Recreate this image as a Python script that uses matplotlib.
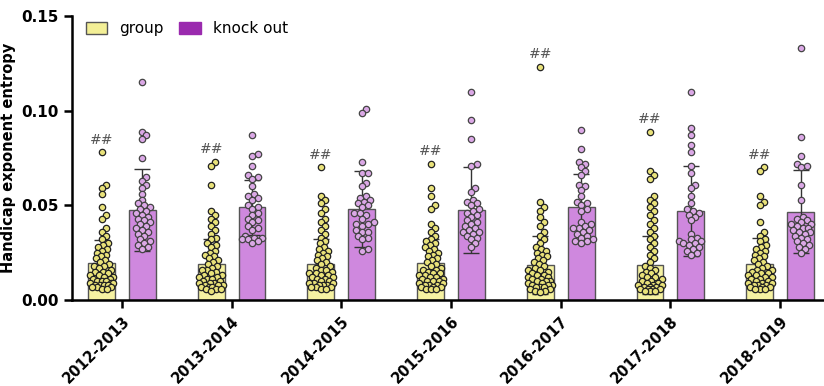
import numpy as np
import matplotlib.pyplot as plt
from matplotlib.patches import Patch

seasons = ["2012-2013", "2013-2014", "2014-2015", "2015-2016",
           "2016-2017", "2017-2018", "2018-2019"]

group_mean = [0.0195, 0.019, 0.019, 0.0195, 0.0185, 0.0185, 0.019]
group_sd = [0.012, 0.013, 0.013, 0.0125, 0.0155, 0.0155, 0.0136]
ko_mean = [0.0475, 0.049, 0.048, 0.0475, 0.049, 0.047, 0.0467]
ko_sd = [0.0215, 0.0145, 0.020, 0.0225, 0.0175, 0.024, 0.022]

group_pts = [
    [0.078, 0.061, 0.059, 0.056, 0.049, 0.045, 0.043, 0.038, 0.036, 0.034, 0.032, 0.030, 0.029,
     0.028, 0.027, 0.026, 0.025, 0.024, 0.023, 0.022, 0.021, 0.020, 0.019, 0.018, 0.018, 0.017,
     0.016, 0.015, 0.015, 0.014, 0.013, 0.013, 0.012, 0.012, 0.011, 0.011, 0.010, 0.010, 0.010,
     0.009, 0.009, 0.009, 0.008, 0.008, 0.008, 0.008, 0.007, 0.007, 0.007, 0.006, 0.006],
    [0.073, 0.071, 0.061, 0.047, 0.045, 0.043, 0.041, 0.039, 0.037, 0.035, 0.033, 0.032, 0.030,
     0.029, 0.028, 0.026, 0.025, 0.024, 0.023, 0.022, 0.021, 0.020, 0.019, 0.018, 0.017, 0.016,
     0.016, 0.015, 0.014, 0.013, 0.013, 0.012, 0.012, 0.011, 0.011, 0.010, 0.010, 0.009, 0.009,
     0.009, 0.008, 0.008, 0.008, 0.007, 0.007, 0.007, 0.006, 0.006, 0.006, 0.005],
    [0.070, 0.055, 0.053, 0.051, 0.048, 0.046, 0.043, 0.041, 0.039, 0.037, 0.035, 0.033, 0.031,
     0.030, 0.028, 0.027, 0.026, 0.025, 0.024, 0.023, 0.022, 0.021, 0.020, 0.019, 0.018, 0.017,
     0.016, 0.016, 0.015, 0.014, 0.014, 0.013, 0.013, 0.012, 0.012, 0.011, 0.011, 0.010, 0.010,
     0.009, 0.009, 0.009, 0.008, 0.008, 0.008, 0.007, 0.007, 0.007, 0.006, 0.006],
    [0.072, 0.059, 0.055, 0.050, 0.048, 0.040, 0.038, 0.036, 0.034, 0.032, 0.031, 0.030, 0.029,
     0.028, 0.027, 0.026, 0.025, 0.024, 0.023, 0.022, 0.021, 0.020, 0.019, 0.018, 0.017, 0.016,
     0.016, 0.015, 0.014, 0.014, 0.013, 0.013, 0.012, 0.012, 0.011, 0.011, 0.010, 0.010, 0.010,
     0.009, 0.009, 0.008, 0.008, 0.008, 0.007, 0.007, 0.007, 0.006, 0.006, 0.006],
    [0.123, 0.052, 0.049, 0.047, 0.044, 0.041, 0.039, 0.036, 0.034, 0.032, 0.030, 0.028, 0.027,
     0.026, 0.025, 0.024, 0.023, 0.022, 0.021, 0.020, 0.019, 0.018, 0.017, 0.016, 0.016, 0.015,
     0.014, 0.013, 0.013, 0.012, 0.012, 0.011, 0.011, 0.010, 0.010, 0.010, 0.009, 0.009, 0.008,
     0.008, 0.008, 0.007, 0.007, 0.007, 0.006, 0.006, 0.005, 0.005, 0.004],
    [0.089, 0.068, 0.066, 0.064, 0.055, 0.053, 0.051, 0.049, 0.047, 0.045, 0.042, 0.040, 0.038,
     0.036, 0.034, 0.032, 0.030, 0.028, 0.026, 0.024, 0.022, 0.020, 0.018, 0.017, 0.016, 0.015,
     0.014, 0.013, 0.012, 0.012, 0.011, 0.010, 0.010, 0.009, 0.009, 0.008, 0.008, 0.008, 0.007,
     0.007, 0.007, 0.006, 0.006, 0.006, 0.006, 0.005, 0.005, 0.005],
    [0.070, 0.068, 0.055, 0.052, 0.050, 0.041, 0.036, 0.034, 0.032, 0.031, 0.029, 0.028, 0.027,
     0.026, 0.025, 0.024, 0.023, 0.022, 0.021, 0.020, 0.019, 0.018, 0.017, 0.016, 0.016, 0.015,
     0.014, 0.014, 0.013, 0.013, 0.012, 0.012, 0.011, 0.011, 0.010, 0.010, 0.009, 0.009, 0.009,
     0.008, 0.008, 0.008, 0.007, 0.007, 0.007, 0.006, 0.006, 0.006],
]

ko_pts = [
    [0.115, 0.089, 0.087, 0.085, 0.075, 0.065, 0.063, 0.061, 0.059, 0.056, 0.053, 0.051, 0.050,
     0.049, 0.048, 0.047, 0.046, 0.045, 0.044, 0.043, 0.042, 0.041, 0.040, 0.039, 0.038, 0.037,
     0.036, 0.035, 0.034, 0.032, 0.031, 0.030, 0.029, 0.028, 0.027],
    [0.087, 0.077, 0.076, 0.071, 0.066, 0.065, 0.064, 0.060, 0.056, 0.055, 0.054, 0.053, 0.050,
     0.049, 0.048, 0.046, 0.045, 0.043, 0.042, 0.041, 0.039, 0.038, 0.037, 0.034, 0.033, 0.033,
     0.032, 0.032, 0.031, 0.030],
    [0.101, 0.099, 0.073, 0.067, 0.067, 0.062, 0.060, 0.055, 0.054, 0.053, 0.052, 0.051, 0.050,
     0.049, 0.046, 0.046, 0.045, 0.043, 0.041, 0.040, 0.040, 0.039, 0.037, 0.036, 0.036, 0.034,
     0.033, 0.032, 0.027, 0.026],
    [0.110, 0.095, 0.085, 0.072, 0.071, 0.059, 0.057, 0.053, 0.052, 0.051, 0.050, 0.048, 0.047,
     0.046, 0.045, 0.044, 0.042, 0.041, 0.040, 0.039, 0.038, 0.037, 0.036, 0.036, 0.035, 0.034,
     0.033, 0.032, 0.030, 0.028],
    [0.090, 0.080, 0.073, 0.072, 0.070, 0.068, 0.066, 0.061, 0.060, 0.058, 0.055, 0.052, 0.051,
     0.050, 0.048, 0.047, 0.041, 0.040, 0.039, 0.038, 0.038, 0.037, 0.036, 0.035, 0.034, 0.033,
     0.032, 0.031, 0.031, 0.030],
    [0.110, 0.091, 0.087, 0.082, 0.078, 0.071, 0.067, 0.061, 0.059, 0.055, 0.051, 0.048, 0.047,
     0.046, 0.045, 0.044, 0.042, 0.035, 0.033, 0.032, 0.031, 0.031, 0.030, 0.030, 0.029, 0.028,
     0.027, 0.026, 0.025, 0.024],
    [0.133, 0.086, 0.076, 0.072, 0.071, 0.070, 0.061, 0.053, 0.044, 0.043, 0.042, 0.041, 0.040,
     0.040, 0.039, 0.038, 0.038, 0.037, 0.036, 0.036, 0.035, 0.034, 0.033, 0.032, 0.031, 0.030,
     0.029, 0.028, 0.027, 0.025],
]

bar_yellow = "#f6f2a2"
bar_violet = "#cf88de"
pt_yellow = "#e9e27a"
pt_violet = "#dba8e6"


def swarm_offsets(vals, diam=5.0, maxoff=12, px_x=110.0, px_y=1893.0):
    # simple beeswarm, kept within the bar width
    placed = []
    offs = np.zeros(len(vals))
    order = np.argsort(vals)
    cands = [0]
    for k in range(1, maxoff + 1):
        cands += [k, -k]
    for i in order:
        y = vals[i] * px_y
        best, best_d = 0, -1
        for c in cands:
            dmin = min([np.hypot(px - c, py - y) for (px, py) in placed] + [99])
            if dmin >= diam:
                best = c
                break
            if dmin > best_d:
                best, best_d = c, dmin
        placed.append((best, y))
        offs[i] = best / px_x
    return offs


fig = plt.figure(figsize=(8.24, 3.86), dpi=100)
ax = fig.add_axes([0.0874, 0.2228, 0.9126, 0.7357])

x = np.arange(len(seasons))
w = 0.245
d = 0.186

ax.bar(x - d, group_mean, width=w, color=bar_yellow, edgecolor="#555555", linewidth=1, zorder=1)
ax.bar(x + d, ko_mean, width=w, color=bar_violet, edgecolor="#555555", linewidth=1, zorder=1)

for i in range(len(seasons)):
    g = np.array(group_pts[i])
    k = np.array(ko_pts[i])
    ax.scatter(x[i] - d + swarm_offsets(g), g, s=21, color=pt_yellow, edgecolors="#222222",
               linewidths=0.9, zorder=3)
    ax.scatter(x[i] + d + swarm_offsets(k, diam=5.5), k, s=21, color=pt_violet,
               edgecolors="#444444", linewidths=0.9, zorder=3)
    ax.text(x[i] - d, g.max() + 0.003, "##", ha="center", va="bottom", fontsize=10,
            color="#555555", zorder=4)

ax.errorbar(x - d, group_mean, yerr=group_sd, fmt="none", ecolor="#333333", elinewidth=1,
            capsize=6, capthick=1, zorder=2)
ax.errorbar(x + d, ko_mean, yerr=ko_sd, fmt="none", ecolor="#333333", elinewidth=1,
            capsize=6, capthick=1, zorder=2)

ax.set_xlim(-0.455, 6.4)
ax.set_ylim(0, 0.15)
ax.set_yticks([0, 0.05, 0.10, 0.15])
ax.set_yticklabels(["0.00", "0.05", "0.10", "0.15"], fontsize=11, fontweight="bold")
ax.set_xticks(x)
ax.set_xticklabels(seasons, rotation=45, ha="right", rotation_mode="anchor",
                   fontsize=10.5, fontweight="bold")
ax.set_ylabel("Handicap exponent entropy", fontsize=10.5, fontweight="bold")

for s in ["top", "right"]:
    ax.spines[s].set_visible(False)
for s in ["left", "bottom"]:
    ax.spines[s].set_linewidth(1.8)
ax.tick_params(axis="both", width=1.8, length=6, direction="out")

handles = [Patch(facecolor="#f3ef96", edgecolor="#555555", label="group"),
           Patch(facecolor="#9a2aae", edgecolor="#9a2aae", label="knock out")]
ax.legend(handles=handles, loc="upper left", bbox_to_anchor=(0.0, 1.03), ncol=2,
          frameon=False, fontsize=11, handlelength=1.4, handleheight=0.9, columnspacing=1.0,
          handletextpad=0.8)

plt.savefig("out.png", dpi=100)
